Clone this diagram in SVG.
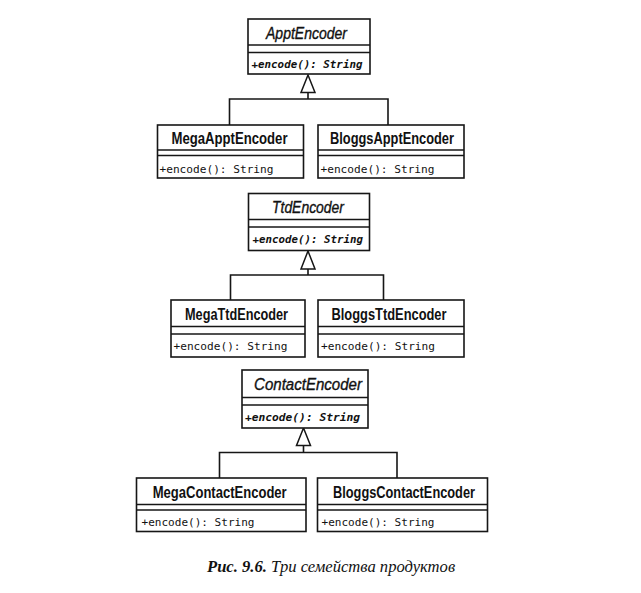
<svg xmlns="http://www.w3.org/2000/svg" width="641" height="593" viewBox="0 0 641 593">
<style>
.box{fill:#fff;stroke:#161616;stroke-width:1.6}
.sep{stroke:#161616;stroke-width:1.3}
.edge{fill:none;stroke:#161616;stroke-width:1.6}
.tri{fill:#fff;stroke:#161616;stroke-width:1.5}
.aname{font-family:"Liberation Sans",Arial,sans-serif;font-style:italic;font-size:16px;fill:#111;stroke:#111;stroke-width:0.35;text-anchor:middle}
.cname{font-family:"Liberation Sans",Arial,sans-serif;font-weight:bold;font-size:16px;fill:#111;text-anchor:middle}
.am{font-family:"DejaVu Sans Mono","Liberation Mono",monospace;font-style:italic;font-weight:bold;font-size:11px;fill:#111}
.m{font-family:"DejaVu Sans Mono","Liberation Mono",monospace;font-size:11.2px;fill:#111}
.cap{font-family:"Liberation Serif","Times New Roman",serif;font-style:italic;font-size:16.6px;fill:#111}
</style>
<rect width="641" height="593" fill="#fff"/>
<g id="connectors">
<path class="edge" d="M308 92.5V99M229.5 125V99H388V125"/>
<polygon class="tri" points="308,75 301,92.5 315,92.5"/>
<path class="edge" d="M308 269V275M230.5 300V275H383.5V300"/>
<polygon class="tri" points="308,251 301,269 315,269"/>
<path class="edge" d="M303.5 445.5V452.5M219.5 478V452.5H397V478"/>
<polygon class="tri" points="303.5,428 296.5,445.5 310.5,445.5"/>
</g>
<g id="ApptEncoder">
<rect class="box" x="248" y="19" width="122" height="55"/>
<line class="sep" x1="248" y1="45" x2="370" y2="45"/><line class="sep" x1="248" y1="52.5" x2="370" y2="52.5"/>
<text class="aname" x="306.5" y="39" textLength="81" lengthAdjust="spacingAndGlyphs">ApptEncoder</text>
<text class="am" x="251.5" y="67.5" textLength="111" lengthAdjust="spacingAndGlyphs">+encode(): String</text>
</g>
<g id="MegaApptEncoder">
<rect class="box" x="157.5" y="125" width="146" height="53"/>
<line class="sep" x1="157.5" y1="150" x2="303.5" y2="150"/><line class="sep" x1="157.5" y1="155.5" x2="303.5" y2="155.5"/>
<text class="cname" x="229.5" y="144" textLength="116" lengthAdjust="spacingAndGlyphs">MegaApptEncoder</text>
<text class="m" x="159.5" y="172.5" textLength="114" lengthAdjust="spacingAndGlyphs">+encode(): String</text>
</g>
<g id="BloggsApptEncoder">
<rect class="box" x="318" y="125" width="146" height="53"/>
<line class="sep" x1="318" y1="150" x2="464" y2="150"/><line class="sep" x1="318" y1="155.5" x2="464" y2="155.5"/>
<text class="cname" x="392" y="144" textLength="124" lengthAdjust="spacingAndGlyphs">BloggsApptEncoder</text>
<text class="m" x="320.5" y="172.5" textLength="114" lengthAdjust="spacingAndGlyphs">+encode(): String</text>
</g>
<g id="TtdEncoder">
<rect class="box" x="248.5" y="193.5" width="121" height="57"/>
<line class="sep" x1="248.5" y1="219.5" x2="369.5" y2="219.5"/><line class="sep" x1="248.5" y1="227" x2="369.5" y2="227"/>
<text class="aname" x="308" y="213" textLength="72" lengthAdjust="spacingAndGlyphs">TtdEncoder</text>
<text class="am" x="252.5" y="243" textLength="110.5" lengthAdjust="spacingAndGlyphs">+encode(): String</text>
</g>
<g id="MegaTtdEncoder">
<rect class="box" x="171" y="300" width="134" height="57"/>
<line class="sep" x1="171" y1="326.5" x2="305" y2="326.5"/><line class="sep" x1="171" y1="334" x2="305" y2="334"/>
<text class="cname" x="236.5" y="320" textLength="103" lengthAdjust="spacingAndGlyphs">MegaTtdEncoder</text>
<text class="m" x="173.5" y="349.5" textLength="114" lengthAdjust="spacingAndGlyphs">+encode(): String</text>
</g>
<g id="BloggsTtdEncoder">
<rect class="box" x="318" y="300" width="146" height="57"/>
<line class="sep" x1="318" y1="326.5" x2="464" y2="326.5"/><line class="sep" x1="318" y1="334" x2="464" y2="334"/>
<text class="cname" x="389" y="320" textLength="115" lengthAdjust="spacingAndGlyphs">BloggsTtdEncoder</text>
<text class="m" x="321" y="349.5" textLength="114" lengthAdjust="spacingAndGlyphs">+encode(): String</text>
</g>
<g id="ContactEncoder">
<rect class="box" x="242" y="370" width="126" height="58"/>
<line class="sep" x1="242" y1="397.5" x2="368" y2="397.5"/><line class="sep" x1="242" y1="405" x2="368" y2="405"/>
<text class="aname" x="308" y="390" textLength="108" lengthAdjust="spacingAndGlyphs">ContactEncoder</text>
<text class="am" x="245" y="420.5" textLength="115" lengthAdjust="spacingAndGlyphs">+encode(): String</text>
</g>
<g id="MegaContactEncoder">
<rect class="box" x="136.5" y="478" width="169.5" height="53.5"/>
<line class="sep" x1="136.5" y1="504.5" x2="306" y2="504.5"/><line class="sep" x1="136.5" y1="510" x2="306" y2="510"/>
<text class="cname" x="219.7" y="497.5" textLength="134" lengthAdjust="spacingAndGlyphs">MegaContactEncoder</text>
<text class="m" x="141.5" y="525.5" textLength="113" lengthAdjust="spacingAndGlyphs">+encode(): String</text>
</g>
<g id="BloggsContactEncoder">
<rect class="box" x="317.5" y="478" width="170" height="53.5"/>
<line class="sep" x1="317.5" y1="504.5" x2="487.5" y2="504.5"/><line class="sep" x1="317.5" y1="510" x2="487.5" y2="510"/>
<text class="cname" x="404" y="497.5" textLength="142" lengthAdjust="spacingAndGlyphs">BloggsContactEncoder</text>
<text class="m" x="321.5" y="525.5" textLength="113" lengthAdjust="spacingAndGlyphs">+encode(): String</text>
</g>
<text class="cap" x="207" y="572"><tspan font-weight="bold">Рис. 9.6.</tspan> Три семейства продуктов</text>
</svg>
